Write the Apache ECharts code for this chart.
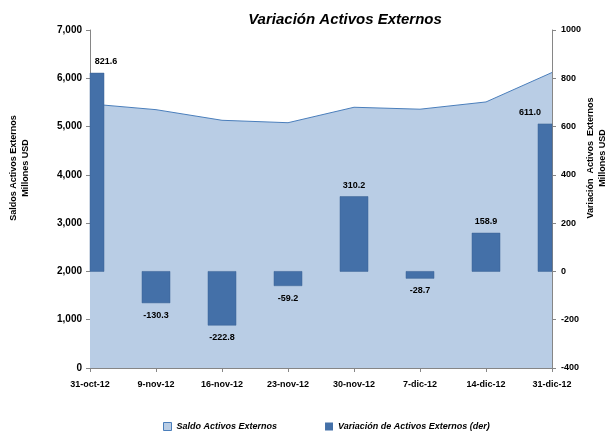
<!DOCTYPE html>
<html>
<head>
    <meta charset="utf-8">
    <title>Variación Activos Externos</title>
    <script src="https://cdn.jsdelivr.net/npm/echarts@6/dist/echarts.min.js"></script>
</head>
<body style="margin:0">
    <div id="main" style="width:608px;height:434px;"></div>
    <script type="text/javascript">
        // datos
        var fechas = ['31-oct-12', '9-nov-12', '16-nov-12', '23-nov-12', '30-nov-12', '7-dic-12', '14-dic-12', '31-dic-12'];
        var saldo = [5470, 5350, 5130, 5080, 5400, 5360, 5510, 6120];
        var variacion = [821.6, -130.3, -222.8, -59.2, 310.2, -28.7, 158.9, 611.0];

        var fuente = '"Liberation Sans", Arial, sans-serif';
        var gris = '#868686';
        var colorBarra = '#4470A8';

        // barras dibujadas a mano para poder recortarlas en los bordes del grid
        function dibujaBarra(params, api) {
            var i = api.value(0);
            var v = api.value(1);
            var tope = api.coord([i, v]);
            var base = api.coord([i, 0]);
            var ancho = 28;
            var cs = params.coordSys;
            var rect = echarts.graphic.clipRectByRect({
                x: tope[0] - ancho / 2,
                y: Math.min(tope[1], base[1]),
                width: ancho,
                height: Math.abs(base[1] - tope[1])
            }, { x: cs.x, y: cs.y, width: cs.width, height: cs.height });
            var tx = Math.min(Math.max(tope[0], cs.x + 16), cs.x + cs.width - 22);
            var ty = v >= 0 ? tope[1] - 7 : tope[1] + 8;
            return {
                type: 'group',
                children: [
                    {
                        type: 'rect',
                        shape: rect,
                        style: { fill: colorBarra, stroke: '#3A6395', lineWidth: 0.5 }
                    },
                    {
                        type: 'text',
                        x: tx, y: ty,
                        style: {
                            text: v.toFixed(1),
                            font: 'bold 9px ' + fuente,
                            fill: '#000',
                            align: 'center',
                            verticalAlign: v >= 0 ? 'bottom' : 'top'
                        }
                    }
                ]
            };
        }

        var myChart = echarts.init(document.getElementById('main'));
        var option = {
            animation: false,
            textStyle: { fontFamily: fuente },
            title: {
                text: 'Variación Activos Externos',
                left: 340, top: 7,
                textAlign: 'center',
                textStyle: { fontSize: 15, fontWeight: 'bold', fontStyle: 'italic', color: '#000', fontFamily: fuente }
            },
            legend: {
                top: 417,
                left: 158,
                itemWidth: 8, itemHeight: 8, itemGap: 48,
                icon: 'rect',
                textStyle: { fontSize: 9, fontWeight: 'bold', fontStyle: 'italic', color: '#000', fontFamily: fuente },
                data: [
                    { name: 'Saldo Activos Externos', itemStyle: { color: '#B9CDE5', borderColor: '#4A7EBB', borderWidth: 1 } },
                    { name: 'Variación de Activos Externos (der)', itemStyle: { color: colorBarra } }
                ]
            },
            grid: { left: 90, right: 56, top: 30, bottom: 66 },
            xAxis: {
                type: 'category',
                data: fechas,
                boundaryGap: false,
                axisLine: { lineStyle: { color: gris } },
                axisTick: { alignWithLabel: true, length: 4, lineStyle: { color: gris } },
                axisLabel: { fontSize: 9, fontWeight: 'bold', color: '#000', margin: 12, fontFamily: fuente }
            },
            yAxis: [
                {
                    type: 'value', min: 0, max: 7000, interval: 1000,
                    splitLine: { show: false },
                    axisLine: { show: true, lineStyle: { color: gris } },
                    axisTick: { show: true, length: 4, lineStyle: { color: gris } },
                    axisLabel: {
                        fontSize: 10, fontWeight: 'bold', color: '#000', margin: 8, fontFamily: fuente,
                        formatter: function (v) { return v.toLocaleString('en-US'); }
                    }
                },
                {
                    type: 'value', min: -400, max: 1000, interval: 200,
                    position: 'right',
                    splitLine: { show: false },
                    axisLine: { show: true, lineStyle: { color: gris } },
                    axisTick: { show: true, length: 4, lineStyle: { color: gris } },
                    axisLabel: {
                        fontSize: 9, fontWeight: 'bold', color: '#000', margin: 9, fontFamily: fuente,
                        formatter: function (v) { return String(v); }
                    }
                }
            ],
            graphic: [
                { type: 'text', x: 14, y: 168, rotation: Math.PI / 2,
                  style: { text: 'Saldos Activos Externos', font: 'bold 9px ' + fuente, fill: '#000', align: 'center', verticalAlign: 'middle' } },
                { type: 'text', x: 26, y: 168, rotation: Math.PI / 2,
                  style: { text: 'Millones USD', font: 'bold 9px ' + fuente, fill: '#000', align: 'center', verticalAlign: 'middle' } },
                { type: 'text', x: 591, y: 158, rotation: Math.PI / 2,
                  style: { text: 'Variación  Activos  Externos', font: 'bold 9px ' + fuente, fill: '#000', align: 'center', verticalAlign: 'middle' } },
                { type: 'text', x: 603, y: 158, rotation: Math.PI / 2,
                  style: { text: 'Millones USD', font: 'bold 9px ' + fuente, fill: '#000', align: 'center', verticalAlign: 'middle' } }
            ],
            series: [
                {
                    name: 'Saldo Activos Externos',
                    type: 'line',
                    data: saldo,
                    symbol: 'none',
                    z: 2,
                    lineStyle: { color: '#4A7EBB', width: 1 },
                    itemStyle: { color: '#B9CDE5' },
                    areaStyle: { color: '#B9CDE5', opacity: 1 }
                },
                {
                    name: 'Variación de Activos Externos (der)',
                    type: 'custom',
                    yAxisIndex: 1,
                    z: 3,
                    itemStyle: { color: colorBarra },
                    renderItem: dibujaBarra,
                    encode: { x: 0, y: 1 },
                    data: variacion.map(function (v, i) { return [i, v]; })
                }
            ]
        };
        myChart.setOption(option);
    </script>
</body>
</html>
